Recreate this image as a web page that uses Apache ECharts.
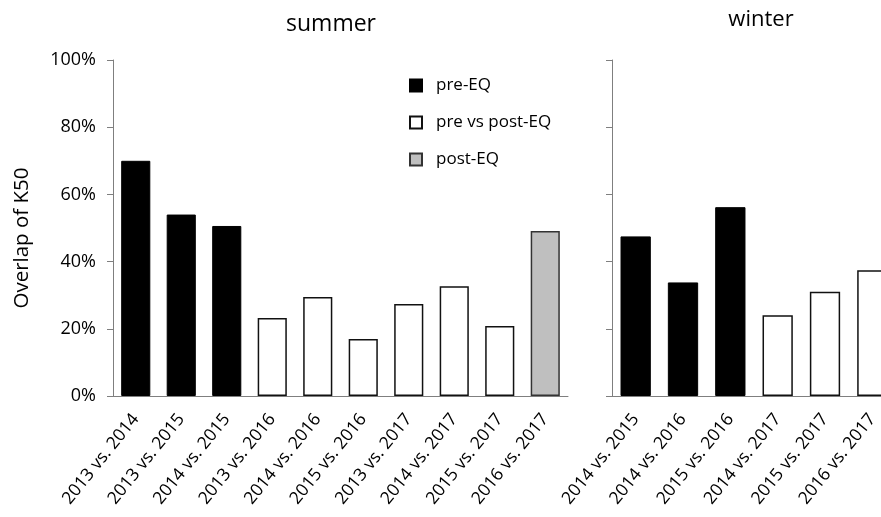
<!DOCTYPE html>
<html>
<head>
<meta charset="utf-8">
<script src="https://cdn.jsdelivr.net/npm/echarts@6/dist/echarts.min.js"></script>
<style>
  html, body { margin: 0; padding: 0; background: #fff; }
  #chart { width: 881px; height: 517px; }
</style>
</head>
<body>
<div id="chart"></div>
<script>
// summer panel
var summerCategories = ["2013 vs. 2014", "2013 vs. 2015", "2014 vs. 2015", "2013 vs. 2016", "2014 vs. 2016",
  "2015 vs. 2016", "2013 vs. 2017", "2014 vs. 2017", "2015 vs. 2017", "2016 vs. 2017"];
var summerValues = [70, 54, 50.6, 23.2, 29.5, 17, 27.4, 32.7, 20.8, 49.1];
var summerGroups = ["pre-EQ", "pre-EQ", "pre-EQ", "pre vs post-EQ", "pre vs post-EQ",
  "pre vs post-EQ", "pre vs post-EQ", "pre vs post-EQ", "pre vs post-EQ", "post-EQ"];

// winter panel
var winterCategories = ["2014 vs. 2015", "2014 vs. 2016", "2015 vs. 2016", "2014 vs. 2017", "2015 vs. 2017", "2016 vs. 2017"];
var winterValues = [47.5, 33.8, 56.2, 24, 31, 37.4];
var winterGroups = ["pre-EQ", "pre-EQ", "pre-EQ", "pre vs post-EQ", "pre vs post-EQ", "pre vs post-EQ"];

var groupNames = ["pre-EQ", "pre vs post-EQ", "post-EQ"];

var FONT = "Open Sans";
var axisGray = "#7f7f7f";
var groupStyle = {
  "pre-EQ": { color: "#000", borderColor: "#000", borderWidth: 1 },
  "pre vs post-EQ": { color: "#fff", borderColor: "#111", borderWidth: 1.5 },
  "post-EQ": { color: "#bfbfbf", borderColor: "#333", borderWidth: 1.5 }
};

function makeSeries(values, groups, idx, stackName) {
  var out = [];
  groupNames.forEach(function (g) {
    if (groups.indexOf(g) < 0) return;
    out.push({
      name: g,
      type: "bar",
      stack: stackName,
      xAxisIndex: idx,
      yAxisIndex: idx,
      barWidth: "64%",
      itemStyle: groupStyle[g],
      data: values.map(function (v, i) { return groups[i] === g ? v : "-"; })
    });
  });
  return out;
}

function xAxisFor(cats, idx) {
  return {
    type: "category",
    gridIndex: idx,
    data: cats,
    axisTick: { show: false },
    axisLine: { lineStyle: { color: axisGray, width: 1 } },
    axisLabel: { rotate: 51, margin: 20, interval: 0, color: "#000", fontSize: 17.5, fontFamily: FONT }
  };
}

function yAxisFor(idx, showLabels) {
  return {
    type: "value",
    gridIndex: idx,
    min: 0,
    max: 100,
    interval: 20,
    splitLine: { show: false },
    axisLine: { show: true, lineStyle: { color: axisGray, width: 1 } },
    axisTick: { show: true, length: 6, lineStyle: { color: axisGray } },
    axisLabel: {
      show: showLabels,
      formatter: "{value}%",
      color: "#000",
      fontSize: 18,
      fontFamily: FONT,
      margin: 17
    }
  };
}

var chart = echarts.init(document.getElementById("chart"));
var yLeft = yAxisFor(0, true);
yLeft.name = "Overlap of K50";
yLeft.nameLocation = "middle";
yLeft.nameGap = 80;
yLeft.nameTextStyle = { color: "#000", fontSize: 20.5, fontFamily: FONT, padding: [0, 20, 0, 0] };

var option = {
  animation: false,
  backgroundColor: "#fff",
  title: [
    { text: "summer", left: 326, top: 8, textAlign: "center",
      textStyle: { fontSize: 23, fontWeight: "normal", color: "#000", fontFamily: FONT } },
    { text: "winter", left: 756, top: 4, textAlign: "center",
      textStyle: { fontSize: 22, fontWeight: "normal", color: "#000", fontFamily: FONT } }
  ],
  legend: {
    data: groupNames,
    orient: "vertical",
    left: 409,
    top: 77,
    padding: 0,
    itemWidth: 12,
    itemHeight: 12,
    itemGap: 20,
    icon: "rect",
    textStyle: { fontSize: 17, color: "#000", fontFamily: FONT, padding: [0, 0, 0, 9] }
  },
  grid: [
    { left: 113, top: 60, width: 455, height: 336, outerBoundsMode: "none" },
    { left: 612, top: 60, width: 284, height: 336, outerBoundsMode: "none" }
  ],
  xAxis: [xAxisFor(summerCategories, 0), xAxisFor(winterCategories, 1)],
  yAxis: [yLeft, yAxisFor(1, false)],
  series: makeSeries(summerValues, summerGroups, 0, "summer")
    .concat(makeSeries(winterValues, winterGroups, 1, "winter"))
};
chart.setOption(option);
</script>
</body>
</html>
